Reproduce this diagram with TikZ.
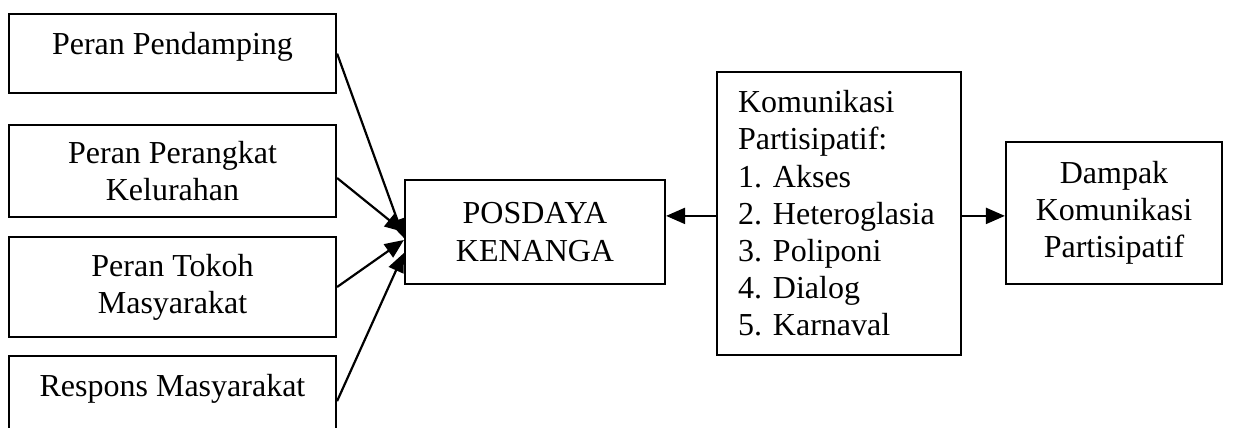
\documentclass[tikz,border=0pt]{standalone}
\usepackage{fontspec}
\setmainfont{Liberation Serif}
\usetikzlibrary{arrows.meta}
\newcommand\itemno[1]{\makebox[17.5pt][l]{#1}}
\tikzset{
  box/.style={draw, line width=1.1pt, align=center, inner sep=0pt, font=\fontsize{16}{18.6}\selectfont},
  arr/.style={line width=1.1pt, -{Triangle[length=9.5pt,width=8pt]}}
}
\begin{document}
\begin{tikzpicture}[x=0.5pt,y=-0.5pt]
\useasboundingbox (0,0) rectangle (1259,428);
\clip (0,0) rectangle (1259,428);
% left column
\node[box, minimum width=163.5pt, text height=20pt, text depth=19.5pt, anchor=north] (pendamping) at (172.5,13) {Peran Pendamping};
\node[box, minimum width=163.5pt, minimum height=46pt] (perangkat) at (172.5,171) {Peran Perangkat\\Kelurahan};
\node[box, minimum width=163.5pt, minimum height=50pt] (tokoh) at (172.5,287) {Peran Tokoh\\Masyarakat};
\node[box, minimum width=163.5pt, text height=20pt, text depth=25pt, anchor=north] (respons) at (172.5,355) {Respons Masyarakat};
% middle and right
\node[box, minimum width=130pt, minimum height=52pt] (posdaya) at (535,232) {POSDAYA\\KENANGA};
\node[box, align=left, text width=101pt, inner xsep=10.5pt, minimum height=141.5pt] (komunikasi) at (839,213.5)
  {Komunikasi\\Partisipatif:\\\itemno{1.}Akses\\\itemno{2.}Heteroglasia\\\itemno{3.}Poliponi\\\itemno{4.}Dialog\\\itemno{5.}Karnaval};
\node[box, minimum width=108pt, minimum height=71pt] (dampak) at (1114,213) {Dampak\\Komunikasi\\Partisipatif};
% arrows
\draw[arr] (pendamping.east) -- ([yshift=-3pt]posdaya.west);
\draw[arr] ([yshift=-3.5pt]perangkat.east) -- (posdaya.west);
\draw[arr] (tokoh.east) -- ([yshift=-4pt]posdaya.west);
\draw[arr] (respons.east) -- ([yshift=-10.5pt]posdaya.west);
\draw[arr] ([yshift=-1.2pt]komunikasi.west) -- ([yshift=-1.2pt]komunikasi.west -| posdaya.east);
\draw[arr] ([yshift=-1.2pt]komunikasi.east) -- ([yshift=-1.2pt]komunikasi.east -| dampak.west);
\end{tikzpicture}
\end{document}
